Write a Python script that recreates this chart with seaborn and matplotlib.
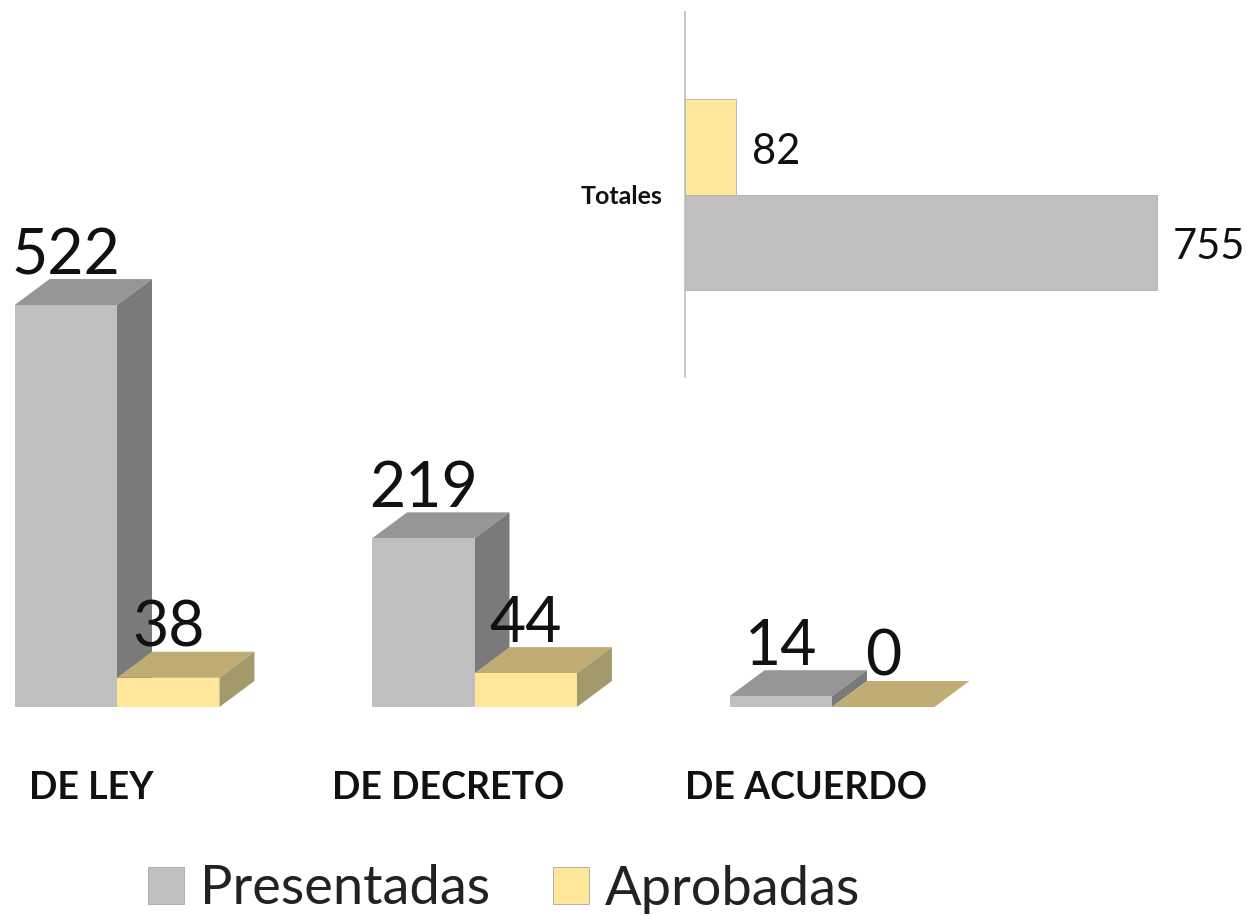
import matplotlib
matplotlib.use("Agg")
import matplotlib.pyplot as plt
import pandas as pd
import seaborn as sns
from matplotlib.patches import Polygon
from matplotlib.transforms import ScaledTranslation

categories = ["DE LEY", "DE DECRETO", "DE ACUERDO"]
presentadas = [522, 219, 14]
aprobadas = [38, 44, 0]
total_label = ["Totales"]
total_presentadas = [755]
total_aprobadas = [82]

W, H = 1251, 916
sns.set_theme(style="white")
plt.rcParams['font.family'] = ['Lato', 'DejaVu Sans']

front = {"Presentadas": "#BFBFBF", "Aprobadas": "#FFE699"}
top_c = {"Presentadas": "#969696", "Aprobadas": "#BFAD73"}
side_c = {"Presentadas": "#7A7A7A", "Aprobadas": "#A39A6C"}
face_z = {"Presentadas": 0.5, "Aprobadas": 0.7}

df = pd.DataFrame({
    "tipo": categories * 2,
    "serie": ["Presentadas"] * 3 + ["Aprobadas"] * 3,
    "n": presentadas + aprobadas,
})

fig = plt.figure(figsize=(W / 100, H / 100), dpi=100)

# main chart, baseline sits at pixel 707
ax = fig.add_axes([0, (H - 707) / H, 1, 707 / H])
sns.barplot(data=df, x="tipo", y="n", hue="serie", order=categories,
            hue_order=["Presentadas", "Aprobadas"], palette=front,
            width=0.573, gap=0, saturation=1, legend=False, ax=ax, linewidth=0)
px_x = 357.5
px_y = 0.77
ax.set_xlim(-117 / px_x, (W - 117) / px_x)
ax.set_ylim(0, 707 / px_y)
dx = 35 / px_x
dy = 26 / px_y

# fake 3d faces from the drawn bars
series_names = ["Presentadas"] * 3 + ["Aprobadas"] * 3
for bar, name in zip(list(ax.patches), series_names):
    x0 = bar.get_x()
    x1 = x0 + bar.get_width()
    h = bar.get_height()
    ax.add_patch(Polygon([(x0, h), (x1, h), (x1 + dx, h + dy), (x0 + dx, h + dy)],
                         facecolor=top_c[name], edgecolor="none", zorder=face_z[name]))
    if h > 0:
        ax.add_patch(Polygon([(x1, 0), (x1 + dx, dy), (x1 + dx, h + dy), (x1, h)],
                             facecolor=side_c[name], edgecolor="none", zorder=face_z[name]))
    ax.text(x0 + bar.get_width() / 2, h + dy - 6 / px_y, str(int(h)), ha="center", va="bottom",
            fontsize=45, color="#111111", zorder=4)

ax.set_xlabel("")
ax.set_ylabel("")
ax.set_yticks([])
ax.tick_params(axis="x", length=0, pad=46)
ax.set_xticks(range(3))
ax.set_xticklabels(categories, fontsize=27, fontweight="bold", color="#111111")
# labels sit left of the group centres in the original
shift = ScaledTranslation(-26 / 100, 0, fig.dpi_scale_trans)
for lab in ax.get_xticklabels():
    lab.set_transform(lab.get_transform() + shift)
sns.despine(ax=ax, left=True, bottom=True, top=True, right=True)
ax.patch.set_alpha(0)

# legend
handles = [plt.Rectangle((0, 0), 1, 1, facecolor=front[k], edgecolor="#A6A6A6", linewidth=0.6)
           for k in ["Presentadas", "Aprobadas"]]
fig.legend(handles, ["Presentadas", "Aprobadas"], loc="center", bbox_to_anchor=(504 / W, 1 - 889 / H),
           ncol=2, frameon=False, fontsize=39, handlelength=0.67, handleheight=0.67,
           handletextpad=0.3, columnspacing=1.15, labelcolor="#222222")

# totals inset
df2 = pd.DataFrame({
    "tipo": total_label * 2,
    "serie": ["Aprobadas", "Presentadas"],
    "n": total_aprobadas + total_presentadas,
})
ax2 = fig.add_axes([685 / W, 1 - 377 / H, (W - 685) / W, 365 / H])
sns.barplot(data=df2, y="tipo", x="n", hue="serie", hue_order=["Aprobadas", "Presentadas"],
            palette=front, width=0.523, gap=0, saturation=1, legend=False, ax=ax2,
            edgecolor="#B0B0B0", linewidth=0.6)
ax2.set_xlim(0, (W - 685) / 0.625)
ax2.set_ylim(0.5, -0.5)
for bar in ax2.patches:
    if bar.get_width() > 0:
        ax2.text(bar.get_width() + 26, bar.get_y() + bar.get_height() / 2 + 5 / 365, str(int(bar.get_width())),
                 va="center", ha="left", fontsize=30, color="#111111")
ax2.set_xlabel("")
ax2.set_ylabel("")
ax2.set_xticks([])
ax2.tick_params(axis="y", length=0, pad=16.5)
ax2.set_yticks([0])
ax2.set_yticklabels(total_label, fontsize=18, fontweight="bold", color="#111111")
sns.despine(ax=ax2, left=False, bottom=True)
ax2.spines["left"].set_color("#BDBDBD")
ax2.spines["left"].set_linewidth(1.2)
ax2.patch.set_alpha(0)

fig.savefig("out.png", dpi=100)
